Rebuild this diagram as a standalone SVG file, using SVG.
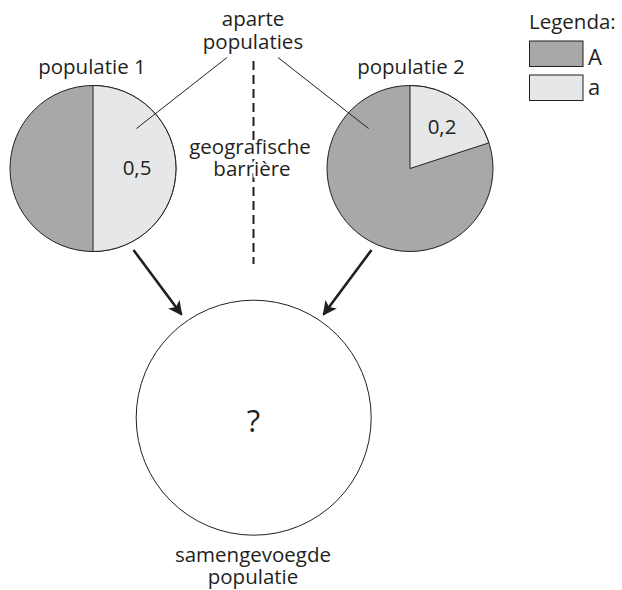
<svg xmlns="http://www.w3.org/2000/svg" width="622" height="590" viewBox="0 0 622 590">
<style>
text{font-family:"Open Sans","Liberation Sans",Arial,sans-serif;font-size:20.5px;fill:#231f20}
.c{text-anchor:middle}
.dark{fill:#a7a8aa;stroke:#231f20;stroke-width:1}
.light{fill:#e6e7e8;stroke:#231f20;stroke-width:1}
.lead{stroke:#231f20;stroke-width:1;fill:none}
.arrow{stroke:#231f20;stroke-width:2.6;fill:none;marker-end:url(#ah)}
.halo{stroke:#fff;stroke-width:5;paint-order:stroke;stroke-linejoin:round}
</style>
<defs>
<marker id="ah" viewBox="0 0 10 10" refX="9" refY="5" markerWidth="5.5" markerHeight="5.5" orient="auto" markerUnits="strokeWidth">
<path d="M0,0 L10,5 L0,10 L2.5,5 Z" fill="#231f20"/>
</marker>
</defs>
<rect width="622" height="590" fill="#fff"/>
<g id="barrier">
<line x1="253.5" y1="61" x2="253.5" y2="264" stroke="#231f20" stroke-width="2" stroke-dasharray="9 5"/>
<text class="c halo" x="250" y="154">geografische</text>
<text class="c halo" x="252" y="176">barrière</text>
</g>
<g id="pop1">
<circle cx="93" cy="168.5" r="83" class="dark"/>
<path d="M93,85.5 A83,83 0 0 1 93,251.5 Z" class="light"/>
<text class="c" x="92" y="74">populatie 1</text>
<text class="c" x="137" y="175">0,5</text>
</g>
<g id="pop2">
<circle cx="410" cy="168.5" r="83" class="dark"/>
<path d="M410,168.5 L410,85.5 A83,83 0 0 1 488.94,142.85 Z" class="light"/>
<text class="c" x="411" y="74">populatie 2</text>
<text class="c" x="442" y="134">0,2</text>
</g>
<g id="label-aparte">
<text class="c" x="253" y="26">aparte</text>
<text class="c" x="253" y="49">populaties</text>
</g>
<g id="merged">
<circle cx="253.7" cy="417.7" r="117.5" fill="#fff" stroke="#231f20" stroke-width="1"/>
<text class="c" x="253.5" y="432" style="font-size:31px">?</text>
<text class="c" x="253" y="562">samengevoegde</text>
<text class="c" x="253" y="584">populatie</text>
</g>
<g id="legend">
<text x="529" y="29">Legenda:</text>
<rect x="529.5" y="41" width="53.5" height="25.5" class="dark"/>
<text x="588" y="65" style="font-size:22px">A</text>
<rect x="529.5" y="75" width="53.5" height="25.5" class="light"/>
<text x="588" y="95" style="font-size:22px">a</text>
</g>
<g id="connectors">
<line class="lead" x1="227" y1="57.5" x2="136.5" y2="128.5"/>
<line class="lead" x1="278" y1="57.5" x2="368.5" y2="128.5"/>
<line class="arrow" x1="133.5" y1="250" x2="181.5" y2="314.5"/>
<line class="arrow" x1="371.5" y1="250" x2="323.5" y2="314.5"/>
</g>
</svg>
